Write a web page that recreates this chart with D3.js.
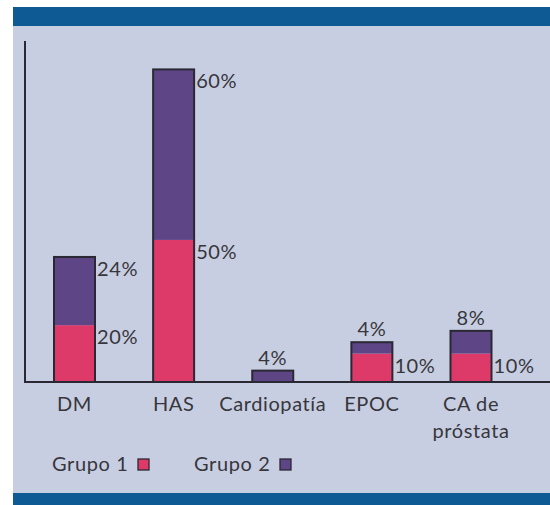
<!DOCTYPE html>
<html><head><meta charset="utf-8">
<script src="https://cdn.jsdelivr.net/npm/d3@7"></script>
<style>html,body{margin:0;padding:0;background:#fff;}svg{display:block;}</style>
</head><body><svg id="c" width="550" height="505"></svg>
<script>
const categories = ["DM", "HAS", "Cardiopatía", "EPOC", "CA de|próstata"];
const grupo1 = [20, 50, 0, 10, 10];
const grupo2 = [24, 60, 4, 4, 8];
const seriesNames = ["Grupo 1", "Grupo 2"];
const colors = ["#dd3a69", "#5e4586"];
// label placement: "right" = beside bar top, "top" = above bar, null = none
const g1LabelPos = ["right", "right", null, "right", "right"];
const g2LabelPos = ["right", "right", "top", "top", "top"];

const svg = d3.select("#c");
const font = "Lato, 'Open Sans', sans-serif";
const textColor = "#37363c";

// panel
svg.append("rect").attr("x", 13).attr("y", 7).attr("width", 537).attr("height", 498).attr("fill", "#c8cee2");
svg.append("rect").attr("x", 13).attr("y", 7).attr("width", 537).attr("height", 19).attr("fill", "#0d5a94");
svg.append("rect").attr("x", 13).attr("y", 493).attr("width", 537).attr("height", 12).attr("fill", "#0d5a94");

const x = d3.scalePoint().domain(categories).range([74.5, 471]);
const y = d3.scaleLinear().domain([0, 120]).range([382, 41]);
const bw = 41;

const data = categories.map((c, i) => ({c, i, g1: grupo1[i], g2: grupo2[i]}));
const stack = d3.stack().keys(["g1", "g2"])(data);

const g = svg.append("g");
stack.forEach((layer, k) => {
  g.selectAll(null).data(layer.filter(d => d[1] > d[0])).enter().append("rect")
    .attr("x", d => x(d.data.c) - bw / 2)
    .attr("y", d => y(d[1]))
    .attr("width", bw)
    .attr("height", d => y(d[0]) - y(d[1]))
    .attr("fill", colors[k]);
});
// outline of each bar
g.selectAll(null).data(data).enter().append("rect")
  .attr("x", d => x(d.c) - bw / 2)
  .attr("y", d => y(d.g1 + d.g2))
  .attr("width", bw)
  .attr("height", d => y(0) - y(d.g1 + d.g2))
  .attr("fill", "none").attr("stroke", "#2a2833").attr("stroke-width", 2);

// axes
svg.append("line").attr("x1", 25).attr("x2", 25).attr("y1", y(120)).attr("y2", y(0))
  .attr("stroke", "#2a2833").attr("stroke-width", 2);
svg.append("line").attr("x1", 24).attr("x2", 550).attr("y1", y(0)).attr("y2", y(0))
  .attr("stroke", "#2a2833").attr("stroke-width", 2);

const fs = 20;
function label(txt, xx, yy, anchor) {
  svg.append("text").attr("x", xx).attr("y", yy).attr("text-anchor", anchor)
    .attr("font-family", font).attr("font-size", fs).attr("letter-spacing", 0.6)
    .attr("fill", textColor).text(txt);
}
data.forEach(d => {
  const cx = x(d.c);
  if (g1LabelPos[d.i] === "right") label(d.g1 + "%", cx + bw / 2 + 2, y(d.g1) + 19, "start");
  if (g2LabelPos[d.i] === "right") label(d.g2 + "%", cx + bw / 2 + 2, y(d.g1 + d.g2) + 19, "start");
  if (g2LabelPos[d.i] === "top") label(d.g2 + "%", cx, y(d.g1 + d.g2) - 6, "middle");
  // category
  const lines = d.c.split("|");
  lines.forEach((ln, j) => label(ln, cx, 411 + j * 27, "middle"));
});

// legend
const legX = [52, 194];
seriesNames.forEach((s, k) => {
  label(s, legX[k], 471, "start");
  svg.append("rect").attr("x", legX[k] + 86).attr("y", 459).attr("width", 11).attr("height", 11)
    .attr("fill", colors[k]).attr("stroke", "#2a2833").attr("stroke-width", 1.3);
});
</script></body></html>
